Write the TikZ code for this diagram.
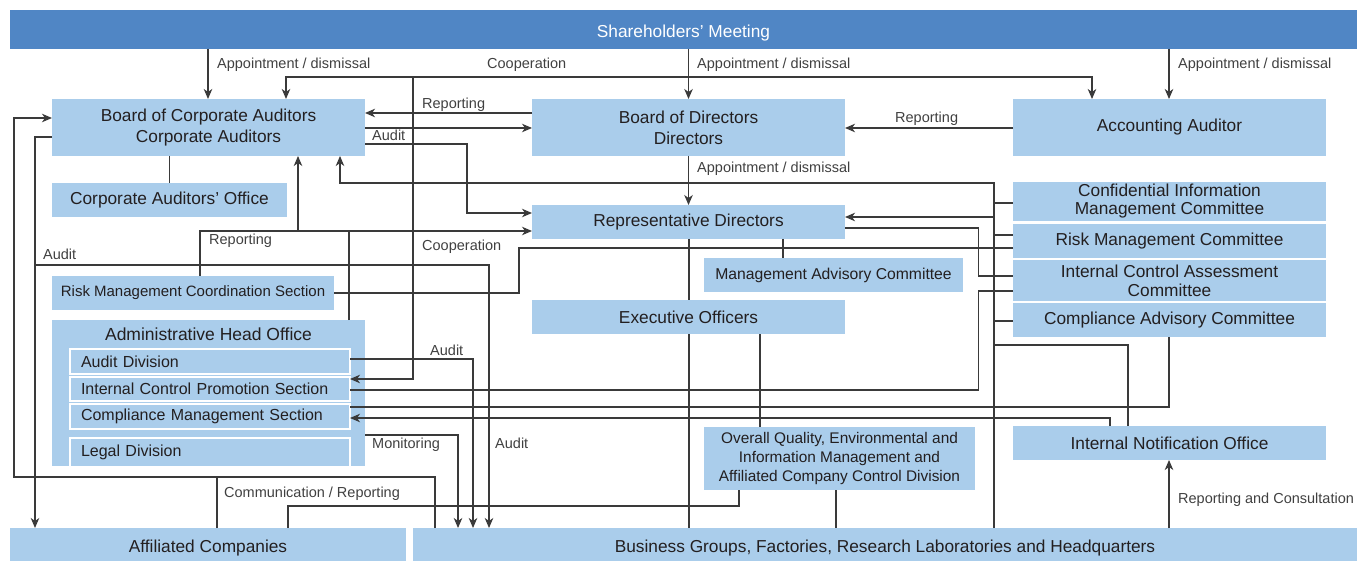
\documentclass[tikz,border=0pt]{standalone}
\usepackage{fontspec}
\setmainfont{Liberation Sans}
\usetikzlibrary{arrows.meta}
\definecolor{boxblue}{HTML}{AACDEB}
\definecolor{topblue}{HTML}{5086C5}
\definecolor{txt}{HTML}{231F20}
\definecolor{lbltxt}{HTML}{404040}
\definecolor{ln}{HTML}{3A3A3A}
\begin{document}
\begin{tikzpicture}[x=1pt,y=-1pt,
  >={Stealth[length=10pt,width=8.5pt,inset=3pt]},
  box/.style={fill=boxblue,inner sep=0pt,outer sep=0pt,text=txt,align=center,font=\fontsize{17.3}{21}\selectfont},
  lowtext/.style={text height=15.5pt,text depth=0pt},
  subbox/.style={box,draw=white,line width=2pt,align=left,inner xsep=11pt,inner ysep=0pt,text width=258pt,minimum width=280pt,font=\fontsize{16}{18}\selectfont},
  lbl/.style={text=lbltxt,inner sep=0pt,anchor=base west,font=\fontsize{14.5}{16}\selectfont},
  conn/.style={draw=ln,line width=1.1pt},
  arr/.style={conn,->},
  ]
\useasboundingbox (0,0) rectangle (1357,561);

% ---------- boxes ----------
\node[box,lowtext,fill=topblue,text=white,minimum width=1347pt,minimum height=39pt] (SM) at (683.5,29.5) {Shareholders’ Meeting};
\node[box,minimum width=313pt,minimum height=57pt] (BCA) at (208.5,127.5) {Board of Corporate Auditors\\Corporate Auditors};
\node[box,minimum width=235pt,minimum height=34pt] (CAO) at (169.5,200) {Corporate Auditors’ Office};
\node[box,minimum width=313pt,minimum height=57pt] (BoD) at (688.5,127.5) {Board of Directors\\Directors};
\node[box,minimum width=313pt,minimum height=57pt] (AA) at (1169.5,127.5) {Accounting Auditor};
\node[box,minimum width=313pt,minimum height=34pt] (RD) at (688.5,222) {Representative Directors};
\node[box,minimum width=313pt,minimum height=39pt,font=\fontsize{17.3}{18}\selectfont] (CIMC) at (1169.5,201.5) {Confidential Information\\Management Committee};
\node[box,minimum width=313pt,minimum height=34pt] (RMC) at (1169.5,241) {Risk Management Committee};
\node[box,minimum width=313pt,minimum height=41pt,font=\fontsize{17.3}{19}\selectfont] (ICAC) at (1169.5,280.5) {Internal Control Assessment\\Committee};
\node[box,minimum width=313pt,minimum height=34pt] (CAC) at (1169.5,320) {Compliance Advisory Committee};
\node[box,minimum width=259pt,minimum height=34pt,font=\fontsize{15.7}{18}\selectfont] (MAC) at (833.5,275) {Management Advisory Committee};
\node[box,minimum width=313pt,minimum height=34pt] (EO) at (688.5,317) {Executive Officers};
\node[box,minimum width=282pt,minimum height=34pt,font=\fontsize{15}{18}\selectfont] (RMCS) at (193,293) {Risk Management Coordination Section};
\node[box,minimum width=313pt,minimum height=146pt] (AHO) at (208.5,393) {};
\node[text=txt,inner sep=0pt,anchor=base,font=\fontsize{17.5}{18}\selectfont] (AHOt) at (208.5,340) {Administrative Head Office};
\node[subbox,minimum height=25pt] (AD) at (210,361.5) {Audit Division};
\node[subbox,minimum height=24.5pt] (ICPS) at (210,388.75) {Internal Control Promotion Section};
\node[subbox,minimum height=25pt] (CMS) at (210,416) {Compliance Management Section};
\node[subbox,draw=none,minimum height=28pt] (LD) at (210,452) {Legal Division};
\draw[white,line width=2pt] (LD.south west) |- (LD.north) -| (LD.south east);
\node[box,minimum width=271pt,minimum height=63pt,font=\fontsize{15.4}{19}\selectfont] (OQ) at (839.5,458.5) {Overall Quality, Environmental and\\Information Management and\\Affiliated Company Control Division};
\node[box,minimum width=313pt,minimum height=34pt] (INO) at (1169.5,443) {Internal Notification Office};
\node[box,lowtext,minimum width=396pt,minimum height=33pt] (AC) at (208,544.5) {Affiliated Companies};
\node[box,lowtext,minimum width=944pt,minimum height=33pt] (BG) at (885,544.5) {Business Groups, Factories, Research Laboratories and Headquarters};

% ---------- junction points ----------
\coordinate (coop) at (413,77);
\coordinate (bus) at (994,183);
\coordinate (auditJ) at (35,265);
\coordinate (repJ) at (298,231);
\coordinate (loopJ) at (217,477);

% ---------- top connectors ----------
\draw[arr] (SM.south -| 208,0) -- (BCA.north -| 208,0);
\draw[arr] (SM.south -| 688.5,0) -- (BoD.north);
\draw[arr] (SM.south -| 1169,0) -- (AA.north -| 1169,0);
\draw[conn,<->] (BCA.north -| 286,0) |- (coop) -- (1092,77) -- (AA.north -| 1092,0);
\draw[arr] (BoD.west |- 0,113) -- (BCA.east |- 0,113);
\draw[arr] (BCA.east |- 0,128) -- (BoD.west |- 0,128);
\draw[arr] (BCA.east |- 0,144) -| (467,213) -- (RD.west |- 0,213);
\draw[arr] (AA.west |- 0,128) -- (BoD.east |- 0,128);
\draw[arr] (BoD.south) -- (RD.north);
\draw[conn] (BCA.south -| CAO.north) -- (CAO.north);
\draw[arr] (coop) |- (ICPS.east |- 0,379);

% ---------- committee bus ----------
\draw[arr] (BG.north -| 994,0) -- (bus) -| (BCA.south -| 340,0);
\draw[conn] (994,203) -- (CIMC.west |- 0,203);
\draw[arr] (994,217) -- (RD.east |- 0,217);
\draw[conn] (994,235) -- (RMC.west |- 0,235);
\draw[conn] (994,321) -- (CAC.west |- 0,321);
\draw[conn] (994,345) -| (INO.north -| 1128,0);
\draw[conn] (RD.east |- 0,228) -| (978.5,276) -- (ICAC.west |- 0,276);
\draw[conn] (ICAC.west |- 0,291) -| (978.5,390) -- (ICPS.east |- 0,390);
\draw[conn] (RMC.west |- 0,248) -| (519,293) -- (RMCS.east |- 0,293);
\draw[conn] (CAC.south -| 1169,0) |- (CMS.east |- 0,407);
\draw[arr] (INO.north -| 1110,0) |- (CMS.east |- 0,418);
\draw[arr] (BG.north -| 1169,0) -- (INO.south -| 1169,0);

% ---------- executive side ----------
\draw[conn] (RD.south -| 689,0) -- (EO.north -| 689,0);
\draw[conn] (EO.south -| 689,0) -- (BG.north -| 689,0);
\draw[conn] (EO.south -| 760,0) -- (OQ.north -| 760,0);
\draw[conn] (RD.south -| 783,0) -- (MAC.north -| 783,0);
\draw[conn] (OQ.south -| 836,0) -- (BG.north -| 836,0);
\draw[conn] (OQ.south -| 739,0) |- (288,506) -- (AC.north -| 288,0);

% ---------- left side ----------
\draw[arr] (BG.north -| 435,0) |- (14,477) |- (BCA.west |- 0,118);
\draw[conn] (AC.north -| loopJ) -- (loopJ);
\draw[arr] (BCA.west |- 0,137) -| (AC.north -| 35,0);
\draw[arr] (auditJ) -| (BG.north -| 489,0);
\draw[arr] (AD.east |- 0,359) -| (BG.north -| 473,0);
\draw[arr] (AHO.east |- 0,435) -| (BG.north -| 458,0);
\draw[arr] (RMCS.north -| 200,0) |- (RD.west |- 0,231);
\draw[arr] (repJ) -- (BCA.south -| repJ);
\draw[conn] (AHO.north -| 349,0) -- (349,231);

% ---------- labels ----------
\node[lbl] (l1) at (217,69) {Appointment / dismissal};
\node[lbl] (l2) at (487,69) {Cooperation};
\node[lbl] (l3) at (697,69) {Appointment / dismissal};
\node[lbl] (l4) at (1178,69) {Appointment / dismissal};
\node[lbl] (l5) at (422,109) {Reporting};
\node[lbl] (l6) at (372,141) {Audit};
\node[lbl] (l7) at (895,123) {Reporting};
\node[lbl] (l8) at (697,173) {Appointment / dismissal};
\node[lbl] (l9) at (209,245) {Reporting};
\node[lbl] (l10) at (43,260) {Audit};
\node[lbl] (l11) at (422,251) {Cooperation};
\node[lbl] (l12) at (430,355) {Audit};
\node[lbl] (l13) at (372,448) {Monitoring};
\node[lbl] (l14) at (495,448) {Audit};
\node[lbl] (l15) at (224,497) {Communication / Reporting};
\node[lbl] (l16) at (1178,503) {Reporting and Consultation};
\end{tikzpicture}
\end{document}
